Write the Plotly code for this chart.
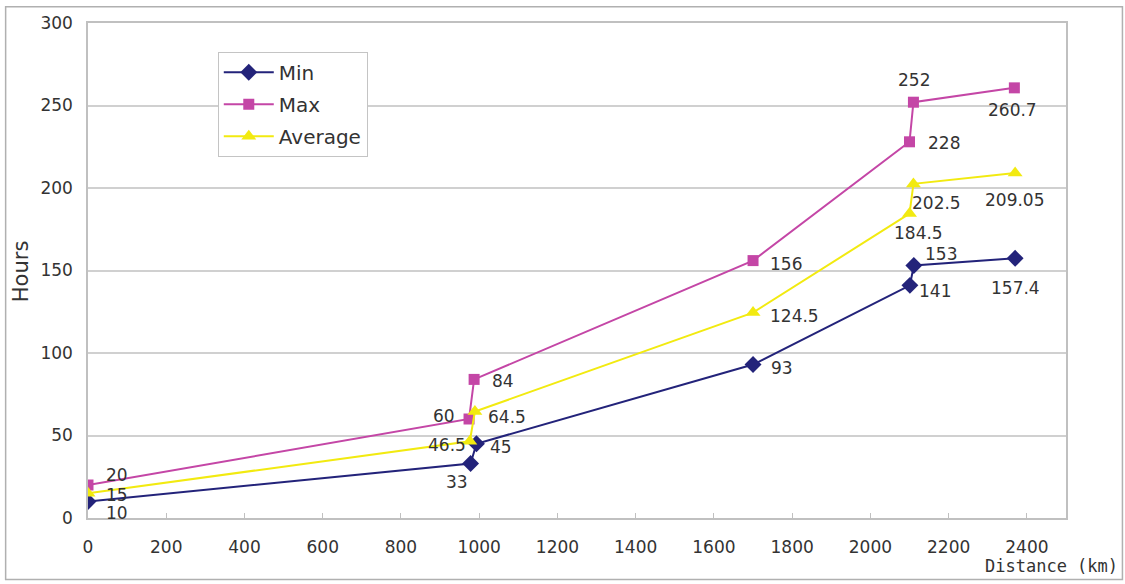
import plotly.graph_objects as go

# ---- data ----
min_x = [0, 978, 993, 1700, 2101, 2111, 2370]
min_y = [10, 33, 45, 93, 141, 153, 157.4]
min_lbl = ["10", "33", "45", "93", "141", "153", "157.4"]

max_x = [0, 974, 987, 1700, 2100, 2110, 2368]
max_y = [20, 60, 84, 156, 228, 252, 260.7]
max_lbl = ["20", "60", "84", "156", "228", "252", "260.7"]

avg_x = [0, 976, 989, 1700, 2100, 2110, 2370]
avg_y = [15, 46.5, 64.5, 124.5, 184.5, 202.5, 209.05]
avg_lbl = ["15", "46.5", "64.5", "124.5", "184.5", "202.5", "209.05"]

x_ticks = [0, 200, 400, 600, 800, 1000, 1200, 1400, 1600, 1800, 2000, 2200, 2400]
y_ticks = [0, 50, 100, 150, 200, 250, 300]

# ---- label offsets (pixels: right, up) ----
min_off = [(29, -11), (-14, -18), (25, -3), (29, -3), (25, -6), (27, 12), (0, -30)]
max_off = [(29, 10), (-25, 3), (29, -2), (33, -3), (34, -1), (1, 22), (-2, -22)]
avg_off = [(29, -2), (-23, -4), (32, -5), (41, -3), (9, -19), (23, -19), (-1, -27)]

C_MIN = "#23237a"
C_MAX = "#c446a6"
C_AVG = "#f2ea10"
FONT = "DejaVu Sans"
TXT = "#333333"

fig = go.Figure()
fig.add_trace(go.Scatter(x=min_x, y=min_y, name="Min", mode="lines+markers",
                         legendgroup="a",
                         line=dict(color=C_MIN, width=2),
                         marker=dict(symbol="diamond", size=13, color=C_MIN)))
fig.add_trace(go.Scatter(x=max_x, y=max_y, name="Max", mode="lines+markers",
                         legendgroup="b",
                         line=dict(color=C_MAX, width=2),
                         marker=dict(symbol="square", size=11, color=C_MAX)))
fig.add_trace(go.Scatter(x=avg_x, y=avg_y, name="Average", mode="lines+markers",
                         legendgroup="c",
                         line=dict(color=C_AVG, width=2),
                         marker=dict(symbol="triangle-up", size=13, color=C_AVG)))

annots = []
for xs, ys, ls, offs in [(min_x, min_y, min_lbl, min_off),
                         (max_x, max_y, max_lbl, max_off),
                         (avg_x, avg_y, avg_lbl, avg_off)]:
    for xv, yv, lb, (dx, dy) in zip(xs, ys, ls, offs):
        annots.append(dict(x=xv, y=yv, xref="x", yref="y", text=lb, showarrow=False,
                           xshift=dx, yshift=dy,
                           font=dict(family=FONT, size=17, color=TXT)))

annots.append(dict(x=1.0557, y=-0.096, xref="paper", yref="paper", text="Distance (km)",
                   showarrow=False, xanchor="right", yanchor="middle",
                   font=dict(family="DejaVu Sans Mono", size=17, color=TXT)))
annots.append(dict(x=-0.0678, y=0.498, xref="paper", yref="paper", text="Hours",
                   showarrow=False, textangle=-90, xanchor="center", yanchor="middle",
                   font=dict(family=FONT, size=21, color=TXT)))

fig.update_layout(
    width=1125, height=584,
    margin=dict(l=88, r=59, t=23, b=66),
    paper_bgcolor="white", plot_bgcolor="white",
    showlegend=True,
    legend=dict(x=0.1327, y=0.942, xanchor="left", yanchor="top",
                bgcolor="white", bordercolor="#c4c4c4", borderwidth=1,
                font=dict(family=FONT, size=20, color=TXT),
                tracegroupgap=3, itemwidth=50),
    annotations=annots,
    shapes=[dict(type="rect", xref="paper", yref="paper",
                 x0=(6 - 88.3) / 977.3, x1=(1122 - 88.3) / 977.3,
                 y0=(518.5 - 580) / 495.2, y1=(518.5 - 7) / 495.2,
                 line=dict(color="#b0b0b0", width=1.5), layer="below")],
    xaxis=dict(range=[0, 2500], tickvals=x_ticks, showgrid=False,
               showline=True, linecolor="#c0c0c0", linewidth=1.5, mirror=True,
               ticks="inside", ticklen=5, tickcolor="#c0c0c0",
               ticklabelstandoff=13,
               tickfont=dict(family=FONT, size=17, color=TXT), zeroline=False),
    yaxis=dict(range=[0, 300], tickvals=y_ticks, showgrid=True,
               gridcolor="#d0d0d0", gridwidth=1.5,
               showline=True, linecolor="#c0c0c0", linewidth=1.5, mirror=True,
               ticks="", ticklabelstandoff=10,
               tickfont=dict(family=FONT, size=17, color=TXT), zeroline=False),
)

fig.write_html("out.html", config={"displayModeBar": False},
               post_script="document.body.style.margin='0';document.body.style.overflow='hidden';")
